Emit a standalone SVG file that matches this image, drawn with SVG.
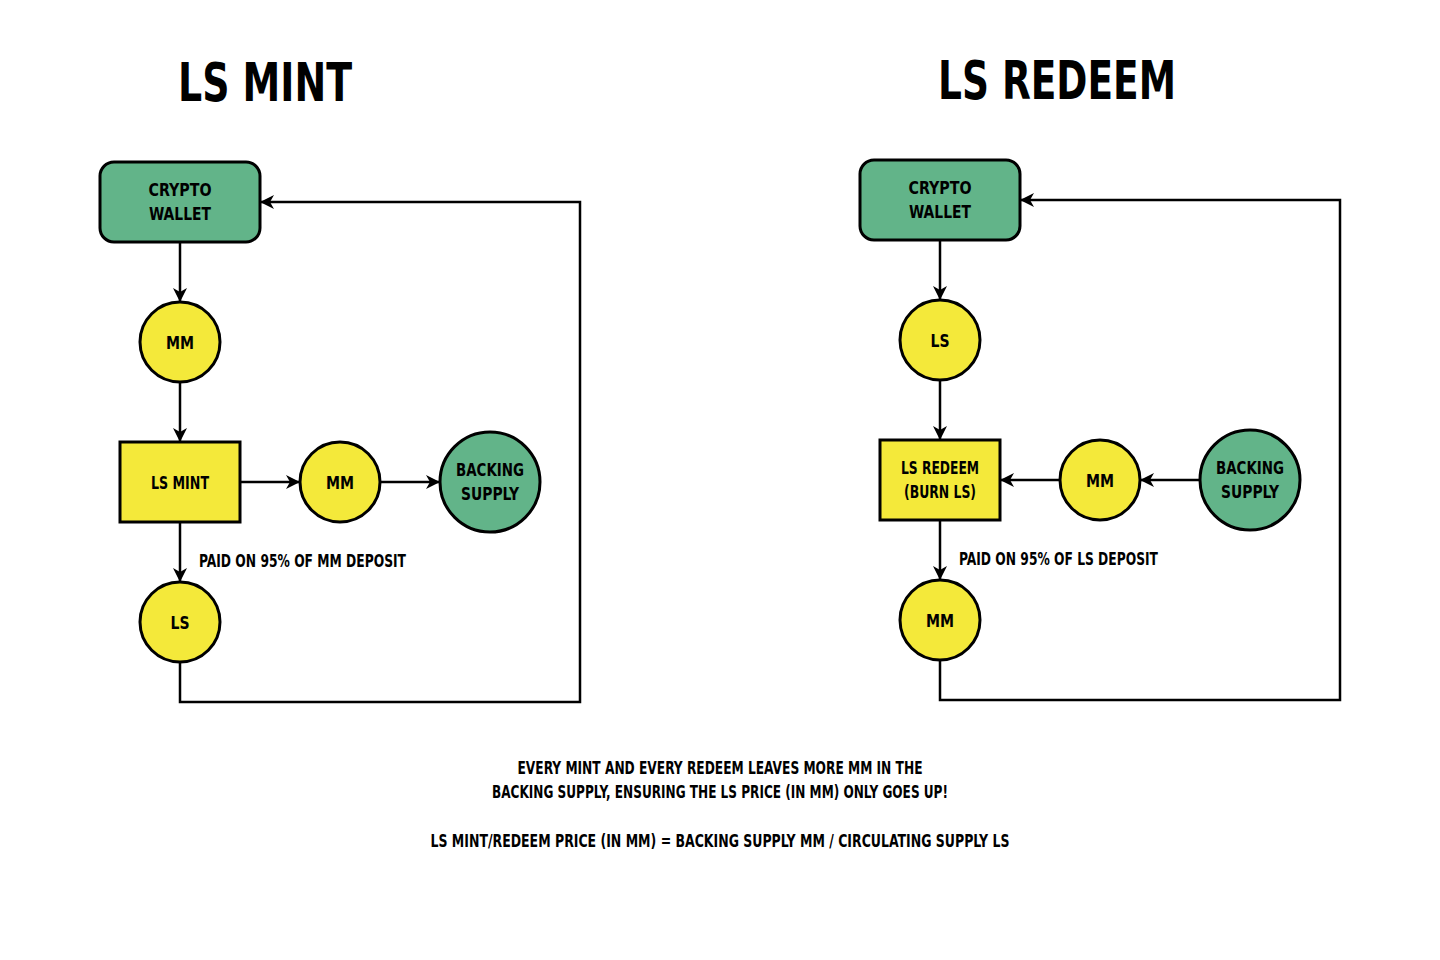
<svg xmlns="http://www.w3.org/2000/svg" width="1440" height="960" viewBox="0 0 1440 960">
<style>
text{font-family:"DejaVu Sans Condensed","Liberation Sans",sans-serif;font-weight:bold;fill:#000;text-anchor:middle}
.t{font-size:54px}
.n{font-size:18px}
.l{font-size:17px;text-anchor:start}
.b{font-size:17px}
.g{fill:#62b489;stroke:#000;stroke-width:3}
.y{fill:#f4e93a;stroke:#000;stroke-width:3}
.c{fill:none;stroke:#000;stroke-width:2.5;marker-end:url(#a)}
</style>
<defs><marker id="a" markerWidth="14" markerHeight="14" refX="13" refY="7" orient="auto" markerUnits="userSpaceOnUse"><path d="M0,0L14,7L0,14L4,7z" fill="#000"/></marker></defs>
<text class="t" x="265" y="101" textLength="174" lengthAdjust="spacingAndGlyphs">LS MINT</text>
<text class="t" x="1057" y="99" textLength="238" lengthAdjust="spacingAndGlyphs">LS REDEEM</text>
<g id="connectors">
<path class="c" d="M180,242V301"/><path class="c" d="M180,382V441"/><path class="c" d="M240,482H299"/><path class="c" d="M380,482H439"/><path class="c" d="M180,522V581"/><path class="c" d="M180,662V702H580V202H261"/>
<path class="c" d="M940,240V299"/><path class="c" d="M940,380V439"/><path class="c" d="M1200,480H1141"/><path class="c" d="M1060,480H1001"/><path class="c" d="M940,520V579"/><path class="c" d="M940,660V700H1340V200H1021"/>
</g>
<g id="l-wallet"><rect class="g" x="100" y="162" width="160" height="80" rx="14"/><text class="n" x="180" y="196" textLength="63" lengthAdjust="spacingAndGlyphs">CRYPTO</text><text class="n" x="180" y="220" textLength="62" lengthAdjust="spacingAndGlyphs">WALLET</text></g>
<g id="l-mm1"><circle class="y" cx="180" cy="342" r="40"/><text class="n" x="180" y="349" textLength="28" lengthAdjust="spacingAndGlyphs">MM</text></g>
<g id="l-mint"><rect class="y" x="120" y="442" width="120" height="80"/><text class="n" x="180" y="489" textLength="58" lengthAdjust="spacingAndGlyphs">LS MINT</text></g>
<g id="l-mm2"><circle class="y" cx="340" cy="482" r="40"/><text class="n" x="340" y="489" textLength="28" lengthAdjust="spacingAndGlyphs">MM</text></g>
<g id="l-back"><circle class="g" cx="490" cy="482" r="50"/><text class="n" x="490" y="476" textLength="68" lengthAdjust="spacingAndGlyphs">BACKING</text><text class="n" x="490" y="500" textLength="58" lengthAdjust="spacingAndGlyphs">SUPPLY</text></g>
<g id="l-ls"><circle class="y" cx="180" cy="622" r="40"/><text class="n" x="180" y="629" textLength="19" lengthAdjust="spacingAndGlyphs">LS</text></g>
<text class="l" x="199" y="567" textLength="207" lengthAdjust="spacingAndGlyphs">PAID ON 95% OF MM DEPOSIT</text>
<g id="r-wallet"><rect class="g" x="860" y="160" width="160" height="80" rx="14"/><text class="n" x="940" y="194" textLength="63" lengthAdjust="spacingAndGlyphs">CRYPTO</text><text class="n" x="940" y="218" textLength="62" lengthAdjust="spacingAndGlyphs">WALLET</text></g>
<g id="r-ls"><circle class="y" cx="940" cy="340" r="40"/><text class="n" x="940" y="347" textLength="19" lengthAdjust="spacingAndGlyphs">LS</text></g>
<g id="r-redeem"><rect class="y" x="880" y="440" width="120" height="80"/><text class="n" x="940" y="474" textLength="78" lengthAdjust="spacingAndGlyphs">LS REDEEM</text><text class="n" x="940" y="498" textLength="72" lengthAdjust="spacingAndGlyphs">(BURN LS)</text></g>
<g id="r-mm2"><circle class="y" cx="1100" cy="480" r="40"/><text class="n" x="1100" y="487" textLength="28" lengthAdjust="spacingAndGlyphs">MM</text></g>
<g id="r-back"><circle class="g" cx="1250" cy="480" r="50"/><text class="n" x="1250" y="474" textLength="68" lengthAdjust="spacingAndGlyphs">BACKING</text><text class="n" x="1250" y="498" textLength="58" lengthAdjust="spacingAndGlyphs">SUPPLY</text></g>
<g id="r-mm"><circle class="y" cx="940" cy="620" r="40"/><text class="n" x="940" y="627" textLength="28" lengthAdjust="spacingAndGlyphs">MM</text></g>
<text class="l" x="959" y="565" textLength="199" lengthAdjust="spacingAndGlyphs">PAID ON 95% OF LS DEPOSIT</text>
<text class="b" x="720" y="774" textLength="405" lengthAdjust="spacingAndGlyphs">EVERY MINT AND EVERY REDEEM LEAVES MORE MM IN THE</text>
<text class="b" x="720" y="798" textLength="456" lengthAdjust="spacingAndGlyphs">BACKING SUPPLY, ENSURING THE LS PRICE (IN MM) ONLY GOES UP!</text>
<text class="b" x="720" y="847" textLength="579" lengthAdjust="spacingAndGlyphs">LS MINT/REDEEM PRICE (IN MM) = BACKING SUPPLY MM / CIRCULATING SUPPLY LS</text>
</svg>
